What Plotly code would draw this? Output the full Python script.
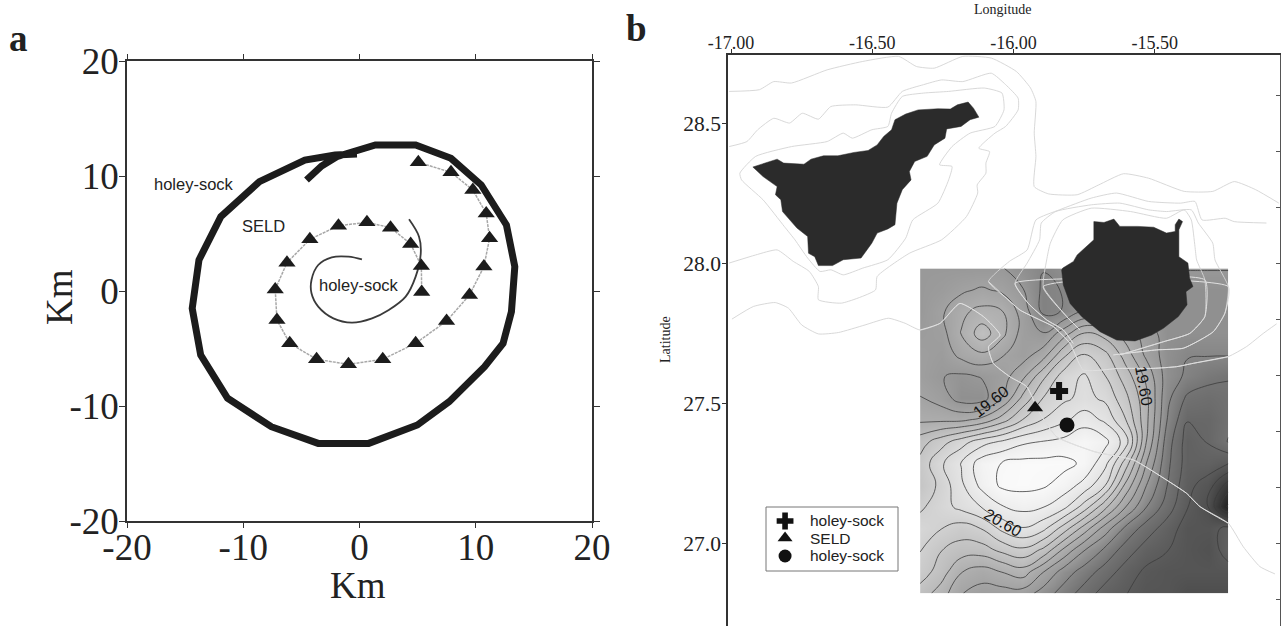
import plotly.graph_objects as go

SERIF = "Liberation Serif"
SANS = "Liberation Sans"
INK = "#222222"

# ---------- panel a ----------
km_ticks = [-20, -10, 0, 10, 20]
km_labels = ["-20", "-10", "0", "10", "20"]
outer_x = [-4.56, -3.26, -1.96, 1.37, 4.83, 7.87, 10.47, 12.64, 13.36, 13.07, 12.35, 10.76, 7.72, 4.98, 0.79, -3.55, -7.59, -11.35, -13.66, -14.39, -13.81, -11.93, -8.61, -4.70, -2.10, -0.22]
outer_y = [9.65, 10.87, 11.68, 12.70, 12.70, 11.54, 9.22, 5.74, 2.12, -1.80, -4.55, -6.58, -9.62, -11.65, -13.25, -13.25, -11.80, -9.33, -5.57, -1.51, 2.70, 6.46, 9.51, 11.39, 11.83, 11.91]
inner_x = [0.21, -0.95, -2.39, -3.55, -4.13, -4.13, -3.55, -2.25, -0.66, 1.08, 2.52, 3.97, 4.83, 5.27, 5.12, 4.26]
inner_y = [2.75, 2.99, 2.93, 2.26, 0.96, -0.20, -1.36, -2.38, -2.75, -2.38, -1.65, -0.49, 1.25, 3.28, 4.72, 6.23]
seld_x = [5.06, 7.87, 9.75, 10.90, 11.19, 10.70, 9.46, 7.49, 4.83, 2.00, -0.95, -3.69, -6.00, -7.10, -7.25, -6.24, -4.27, -1.81, 0.64, 2.67, 4.40, 5.32, 5.35]
seld_y = [11.19, 10.32, 8.78, 6.75, 4.58, 2.12, -0.35, -2.61, -4.55, -5.94, -6.38, -5.94, -4.55, -2.52, 0.14, 2.46, 4.49, 5.68, 5.97, 5.51, 4.09, 2.17, -0.09]
a_label_text = ["holey-sock", "SELD", "holey-sock"]
a_label_x = [-14.24, -8.26, -0.08]
a_label_y = [9.28, 5.65, 0.52]

# ---------- panel b ----------
lon_ticks = [-17.0, -16.5, -16.0, -15.5]
lon_labels = ["-17.00", "-16.50", "-16.00", "-15.50"]
lat_ticks = [27.0, 27.5, 28.0, 28.5]
lat_labels = ["27.0", "27.5", "28.0", "28.5"]
lat_minor = [26.8, 27.0, 27.2, 27.4, 27.6, 27.8, 28.0, 28.2, 28.4, 28.6]

grid_lon = [-16.331, -16.258, -16.185, -16.113, -16.040, -15.967, -15.895, -15.822, -15.749, -15.676, -15.604, -15.531, -15.458, -15.385, -15.313, -15.240]
grid_lat = [27.984, 27.907, 27.829, 27.752, 27.675, 27.597, 27.520, 27.443, 27.365, 27.288, 27.210, 27.133, 27.056, 26.979, 26.901, 26.824]
grid_z = [
    [19.2, 19.2, 19.2, 19.2, 19.2, 19.1, 19.0, 19.1, 19.2, 19.2, 19.2, 19.2, 19.2, 19.2, 19.2, 19.2],
    [19.2, 19.25, 19.35, 19.42, 19.35, 19.2, 18.95, 19.0, 19.1, 19.1, 19.1, 19.1, 19.1, 19.1, 19.1, 19.1],
    [19.2, 19.35, 19.55, 19.65, 19.6, 19.3, 18.95, 19.0, 19.2, 19.2, 19.1, 19.1, 19.1, 19.1, 19.1, 19.1],
    [19.25, 19.3, 19.6, 19.9, 19.65, 19.3, 19.2, 19.5, 19.8, 19.7, 19.5, 19.3, 19.1, 19.1, 19.1, 19.1],
    [19.3, 19.25, 19.45, 19.55, 19.4, 19.3, 19.5, 19.95, 20.2, 20.05, 19.7, 19.35, 19.1, 19.0, 19.0, 19.0],
    [19.3, 19.2, 19.15, 19.2, 19.3, 19.55, 19.95, 20.3, 20.42, 20.2, 19.9, 19.55, 19.1, 18.95, 18.85, 18.8],
    [19.4, 19.3, 19.1, 19.1, 19.4, 19.85, 20.2, 20.35, 20.45, 20.35, 20.05, 19.65, 19.05, 18.75, 18.7, 18.75],
    [19.55, 19.55, 19.55, 19.65, 19.9, 20.2, 20.4, 20.55, 20.7, 20.55, 20.2, 19.65, 19.0, 18.6, 18.6, 18.75],
    [19.9, 20.1, 20.3, 20.5, 20.62, 20.75, 20.8, 20.85, 20.95, 20.85, 20.5, 19.6, 18.9, 18.5, 18.6, 18.8],
    [20.05, 20.35, 20.6, 20.9, 21.0, 21.05, 21.05, 21.05, 20.95, 20.65, 20.1, 19.4, 18.85, 18.5, 18.5, 18.4],
    [20.0, 20.25, 20.55, 20.85, 21.03, 21.05, 21.02, 20.9, 20.72, 20.4, 19.75, 19.2, 18.8, 18.45, 18.3, 17.9],
    [20.15, 20.3, 20.45, 20.6, 20.78, 20.85, 20.8, 20.65, 20.3, 19.85, 19.4, 19.0, 18.7, 18.4, 18.2, 17.55],
    [20.3, 20.2, 20.1, 20.2, 20.45, 20.58, 20.45, 20.1, 19.7, 19.3, 18.95, 18.7, 18.5, 18.3, 18.3, 18.45],
    [20.2, 20.0, 19.9, 19.9, 20.05, 20.15, 19.95, 19.55, 19.2, 18.95, 18.7, 18.5, 18.4, 18.3, 18.25, 18.5],
    [20.1, 19.9, 19.6, 19.5, 19.6, 19.7, 19.4, 19.1, 18.9, 18.7, 18.5, 18.35, 18.3, 18.3, 18.3, 18.3],
    [19.9, 19.7, 19.4, 19.3, 19.3, 19.3, 19.1, 18.9, 18.7, 18.5, 18.4, 18.3, 18.3, 18.2, 18.2, 18.2],
]

tenerife_lon = [-16.923, -16.837, -16.814, -16.742, -16.717, -16.673, -16.622, -16.565, -16.515, -16.483, -16.460, -16.432, -16.420, -16.382, -16.338, -16.268, -16.224, -16.199, -16.161, -16.142, -16.123, -16.154, -16.186, -16.237, -16.243, -16.281, -16.306, -16.350, -16.369, -16.363, -16.394, -16.413, -16.420, -16.445, -16.483, -16.502, -16.540, -16.603, -16.641, -16.691, -16.704, -16.726, -16.729, -16.767, -16.818, -16.824, -16.843, -16.837, -16.887, -16.923]
tenerife_lat = [28.346, 28.374, 28.360, 28.356, 28.374, 28.386, 28.386, 28.398, 28.405, 28.425, 28.455, 28.479, 28.515, 28.535, 28.550, 28.554, 28.553, 28.568, 28.578, 28.556, 28.524, 28.515, 28.491, 28.482, 28.449, 28.425, 28.384, 28.366, 28.330, 28.300, 28.265, 28.217, 28.140, 28.125, 28.110, 28.074, 28.021, 28.015, 27.994, 27.994, 28.026, 28.038, 28.098, 28.128, 28.187, 28.229, 28.247, 28.276, 28.312, 28.346]
canaria_lon = [-15.716, -15.680, -15.645, -15.624, -15.560, -15.504, -15.459, -15.428, -15.428, -15.415, -15.402, -15.415, -15.415, -15.383, -15.377, -15.365, -15.390, -15.386, -15.417, -15.470, -15.511, -15.570, -15.635, -15.694, -15.759, -15.800, -15.824, -15.830, -15.826, -15.788, -15.775, -15.744, -15.716, -15.716]
canaria_lat = [28.151, 28.148, 28.160, 28.134, 28.134, 28.131, 28.110, 28.116, 28.140, 28.160, 28.151, 28.122, 28.026, 28.003, 27.949, 27.919, 27.901, 27.854, 27.812, 27.770, 27.746, 27.725, 27.728, 27.758, 27.812, 27.859, 27.925, 27.978, 27.985, 28.009, 28.032, 28.062, 28.086, 28.151]

iso_a_lon = [-17.007, -16.900, -16.849, -16.786, -16.660, -16.534, -16.407, -16.344, -16.281, -16.180, -16.079, -15.990, -15.940, -15.921, -15.927, -15.921, -15.927, -15.876, -15.775, -15.699, -15.611, -15.522, -15.396, -15.295, -15.219, -15.143, -15.061]
iso_a_lat = [28.616, 28.622, 28.651, 28.646, 28.693, 28.723, 28.741, 28.705, 28.699, 28.741, 28.735, 28.687, 28.628, 28.580, 28.467, 28.384, 28.276, 28.250, 28.247, 28.282, 28.322, 28.306, 28.259, 28.259, 28.294, 28.265, 28.217]
iso_b_lon = [-17.007, -16.944, -16.906, -16.849, -16.793, -16.748, -16.691, -16.647, -16.559, -16.445, -16.394, -16.319, -16.255, -16.180, -16.079, -16.028, -15.984, -15.984, -16.028, -16.066, -16.123, -16.085, -16.098, -16.098, -16.129, -16.127, -16.167, -16.255, -16.369, -16.483, -16.489, -16.609, -16.691, -16.691, -16.723, -16.780, -16.837, -16.913, -17.007]
iso_b_lat = [28.419, 28.437, 28.479, 28.520, 28.503, 28.538, 28.517, 28.562, 28.568, 28.560, 28.616, 28.640, 28.657, 28.651, 28.681, 28.640, 28.592, 28.550, 28.491, 28.467, 28.413, 28.401, 28.360, 28.324, 28.282, 28.253, 28.169, 28.086, 28.038, 27.955, 27.907, 27.860, 27.872, 27.919, 27.973, 28.009, 28.050, 28.032, 28.003]
iso_c_lon = [-16.969, -16.913, -16.786, -16.660, -16.603, -16.571, -16.502, -16.445, -16.432, -16.394, -16.319, -16.230, -16.104, -16.041, -16.034, -16.066, -16.154, -16.218, -16.262, -16.218, -16.230, -16.268, -16.357, -16.382, -16.445, -16.534, -16.603, -16.647, -16.685, -16.729, -16.774, -16.812, -16.887, -16.963, -16.969]
iso_c_lat = [28.324, 28.384, 28.419, 28.437, 28.467, 28.449, 28.479, 28.491, 28.538, 28.598, 28.610, 28.616, 28.628, 28.610, 28.550, 28.491, 28.467, 28.419, 28.354, 28.348, 28.300, 28.217, 28.157, 28.092, 28.015, 27.985, 27.961, 27.979, 27.973, 28.021, 28.086, 28.134, 28.229, 28.300, 28.324]
iso_d_lon = [-16.997, -16.921, -16.844, -16.797, -16.750, -16.691, -16.620, -16.526, -16.443, -16.384, -16.331, -16.260, -16.190, -16.107, -16.048, -16.089, -16.072, -16.013, -15.954, -15.907, -15.848, -15.712, -15.576, -15.458, -15.388, -15.340, -15.240, -15.187, -15.128, -15.075]
iso_d_lat = [27.803, 27.848, 27.862, 27.842, 27.782, 27.750, 27.755, 27.782, 27.806, 27.788, 27.764, 27.788, 27.859, 27.812, 27.746, 27.704, 27.645, 27.597, 27.562, 27.466, 27.383, 27.329, 27.300, 27.228, 27.181, 27.133, 27.074, 26.990, 26.919, 26.893]
iso_e_lon = [-15.069, -15.116, -15.175, -15.240, -15.364, -15.423, -15.506, -15.624, -15.753, -15.789, -15.800, -15.859, -15.907, -15.977, -16.025, -16.089, -16.015, -15.952, -15.921, -15.838, -15.725, -15.636, -15.522, -15.409, -15.358, -15.333, -15.251, -15.219, -15.105]
iso_e_lat = [27.786, 27.752, 27.705, 27.669, 27.645, 27.633, 27.627, 27.627, 27.621, 27.693, 27.716, 27.776, 27.800, 27.835, 27.877, 27.937, 28.009, 28.050, 28.157, 28.193, 28.235, 28.253, 28.223, 28.217, 28.223, 28.157, 28.163, 28.151, 28.146]
iso_f_lon = [-15.647, -15.494, -15.399, -15.293, -15.252, -15.240, -15.287, -15.295, -15.346, -15.371, -15.459, -15.522, -15.624, -15.725, -15.851, -15.902, -15.908, -15.952, -15.995, -15.948, -15.883, -15.824, -15.789]
iso_f_lat = [27.675, 27.693, 27.699, 27.758, 27.824, 27.919, 28.014, 28.074, 28.146, 28.193, 28.187, 28.193, 28.217, 28.211, 28.187, 28.146, 28.086, 28.003, 27.931, 27.859, 27.800, 27.764, 27.716]
iso_g_lon = [-15.624, -15.470, -15.376, -15.323, -15.323, -15.352, -15.358, -15.371, -15.396, -15.459, -15.586, -15.725, -15.826, -15.870, -15.883, -15.895, -15.812, -15.765]
iso_g_lat = [27.675, 27.722, 27.752, 27.812, 27.943, 28.014, 28.062, 28.157, 28.193, 28.163, 28.187, 28.199, 28.157, 28.074, 28.014, 27.919, 27.812, 27.764]
iso_lines = [(iso_a_lon, iso_a_lat), (iso_b_lon, iso_b_lat), (iso_c_lon, iso_c_lat), (iso_d_lon, iso_d_lat),
             (iso_e_lon, iso_e_lat), (iso_f_lon, iso_f_lat), (iso_g_lon, iso_g_lat)]

site_names = ["holey-sock", "SELD", "holey-sock"]
site_lon = [-15.839, -15.924, -15.811]
site_lat = [27.546, 27.486, 27.425]
site_symbols = ["cross", "triangle-up", "circle"]
site_sizes = [15, 14, 15]

key_lon = -16.809
key_lat = [27.082, 27.021, 26.957]
key_text_lon = -16.727
key_sizes = [14, 13, 13]

contour_text = ["19.60", "19.60", "20.60"]
contour_text_lon = [-16.080, -15.537, -16.039]
contour_text_lat = [27.508, 27.564, 27.077]
contour_text_angle = [-38, 80, 30]

W, H = 1281, 626
fig = go.Figure()

# panel a
fig.add_trace(go.Scatter(x=outer_x, y=outer_y, mode="lines", line=dict(color="#1c1c1c", width=7),
                         showlegend=False, hoverinfo="skip"))
fig.add_trace(go.Scatter(x=inner_x, y=inner_y, mode="lines", line=dict(color="#3a3a3a", width=1.8, shape="spline"),
                         showlegend=False, hoverinfo="skip"))
fig.add_trace(go.Scatter(x=seld_x, y=seld_y, mode="lines+markers", line=dict(color="#a8a8a8", width=1.5, dash="3px,1px"),
                         marker=dict(symbol="triangle-up", size=15, color="#1c1c1c"),
                         showlegend=False, hoverinfo="skip"))

# panel b
fig.add_trace(go.Contour(
    x=grid_lon, y=grid_lat, z=grid_z, xaxis="x2", yaxis="y2", showscale=False, hoverinfo="skip",
    zmin=17.6, zmax=21.2,
    colorscale=[[0, "#252525"], [0.194, "#555555"], [0.333, "#747474"], [0.444, "#999999"], [0.778, "#dcdcdc"], [0.944, "#f8f8f8"], [1, "#ffffff"]],
    contours=dict(start=17.59, end=21.19, size=0.2, coloring="heatmap", showlabels=False),
    line=dict(color="#3c3c3c", width=0.8, smoothing=1.3),
))
for lon, lat in iso_lines:
    fig.add_trace(go.Scatter(x=lon, y=lat, xaxis="x2", yaxis="y2", mode="lines",
                             line=dict(color="#d4d4d4", width=0.9, shape="spline", smoothing=0.5),
                             showlegend=False, hoverinfo="skip"))
    inside = [(a, b) for a, b in zip(lon, lat)
              if min(grid_lon) <= a <= max(grid_lon) and min(grid_lat) <= b <= max(grid_lat)]
    if inside:
        fig.add_trace(go.Scatter(x=[p[0] for p in inside], y=[p[1] for p in inside], xaxis="x2", yaxis="y2",
                                 mode="lines", line=dict(color="#e0e0e0", width=1, shape="spline", smoothing=0.5),
                                 showlegend=False, hoverinfo="skip"))
for lon, lat in [(tenerife_lon, tenerife_lat), (canaria_lon, canaria_lat)]:
    fig.add_trace(go.Scatter(x=lon, y=lat, xaxis="x2", yaxis="y2", mode="lines", fill="toself",
                             fillcolor="#2b2b2b", line=dict(color="#2b2b2b", width=0.5),
                             showlegend=False, hoverinfo="skip"))
for n, lo, la, sy, sz in zip(site_names, site_lon, site_lat, site_symbols, site_sizes):
    fig.add_trace(go.Scatter(x=[lo], y=[la], xaxis="x2", yaxis="y2", mode="markers", name=n, showlegend=False,
                             marker=dict(symbol=sy, size=sz, color="#111111"), hoverinfo="skip"))
# key markers
for la, sy, sz in zip(key_lat, site_symbols, key_sizes):
    fig.add_trace(go.Scatter(x=[key_lon], y=[la], xaxis="x2", yaxis="y2", mode="markers", showlegend=False,
                             marker=dict(symbol=sy, size=sz, color="#111111"), hoverinfo="skip"))
# carries the inward ticks of the right-hand frame
fig.add_trace(go.Scatter(x=[None], y=[None], xaxis="x2", yaxis="y3", mode="markers",
                         showlegend=False, hoverinfo="skip"))

annotations = []
for t, x, y in zip(a_label_text, a_label_x, a_label_y):
    annotations.append(dict(x=x, y=y, xref="x", yref="y", text=t, showarrow=False,
                            font=dict(family=SANS, size=16.5, color=INK)))
for t, x, y, ang in zip(contour_text, contour_text_lon, contour_text_lat, contour_text_angle):
    annotations.append(dict(x=x, y=y, xref="x2", yref="y2", text=t, textangle=ang, showarrow=False,
                            font=dict(family=SANS, size=16, color="#111111")))
for t, la in zip(site_names, key_lat):
    annotations.append(dict(x=key_text_lon, y=la, xref="x2", yref="y2", text=t, xanchor="left", yanchor="middle",
                            showarrow=False, font=dict(family=SANS, size=15.5, color=INK)))
annotations += [
    dict(x=18 / W, y=1 - 38 / H, xref="paper", yref="paper", text="<b>a</b>", showarrow=False,
         xanchor="center", yanchor="middle", font=dict(family=SERIF, size=37, color=INK)),
    dict(x=636 / W, y=1 - 29 / H, xref="paper", yref="paper", text="<b>b</b>", showarrow=False,
         xanchor="center", yanchor="middle", font=dict(family=SERIF, size=37, color=INK)),
    dict(x=1003 / W, y=1 - 10 / H, xref="paper", yref="paper", text="Longitude", showarrow=False,
         xanchor="center", yanchor="middle", font=dict(family=SERIF, size=14, color=INK)),
    dict(x=666 / W, y=1 - 340 / H, xref="paper", yref="paper", text="Latitude", textangle=-90, showarrow=False,
         xanchor="center", yanchor="middle", font=dict(family=SERIF, size=14, color=INK)),
    dict(x=358 / W, y=1 - 585 / H, xref="paper", yref="paper", text="Km", showarrow=False,
         xanchor="center", yanchor="middle", font=dict(family=SERIF, size=37, color=INK)),
    dict(x=59 / W, y=1 - 297 / H, xref="paper", yref="paper", text="Km", textangle=-90, showarrow=False,
         xanchor="center", yanchor="middle", font=dict(family=SERIF, size=37, color=INK)),
]

fig.update_layout(
    width=W, height=H, margin=dict(l=0, r=0, t=0, b=0, autoexpand=False), autosize=False,
    paper_bgcolor="white", plot_bgcolor="rgba(0,0,0,0)", showlegend=False,
    annotations=annotations,
    shapes=[dict(type="rect", xref="paper", yref="paper", x0=766 / W, x1=898 / W, y0=1 - 571 / H, y1=1 - 507 / H,
                 line=dict(color="#777777", width=1), fillcolor="rgba(0,0,0,0)")],
    xaxis=dict(domain=[127 / W, 592 / W], range=[-20, 20], tickvals=km_ticks, ticktext=km_labels,
               showgrid=False, zeroline=False, showline=True, linecolor="#333333", linewidth=1.5,
               mirror="ticks", ticks="outside", ticklen=5, tickcolor="#333333", ticklabelstandoff=-12,
               tickfont=dict(family=SERIF, size=37, color=INK)),
    yaxis=dict(domain=[1 - 521 / H, 1 - 61 / H], range=[-20, 20], tickvals=km_ticks, ticktext=km_labels,
               showgrid=False, zeroline=False, showline=True, linecolor="#333333", linewidth=1.5,
               mirror="ticks", ticks="outside", ticklen=6, tickcolor="#333333", ticklabelstandoff=-7,
               tickfont=dict(family=SERIF, size=37, color=INK)),
    xaxis2=dict(domain=[728 / W, 1280 / W], range=[-17.011, -15.057], side="top", anchor="y2",
                tickvals=lon_ticks, ticktext=lon_labels, showgrid=False, zeroline=False,
                showline=True, linecolor="#333333", linewidth=1.5, ticks="outside", ticklen=4,
                ticklabelstandoff=-7,
                tickcolor="#333333", tickfont=dict(family=SERIF, size=18, color=INK)),
    yaxis2=dict(domain=[0, 1 - 55 / H], range=[26.707, 28.746], anchor="x2",
                tickvals=lat_ticks, ticktext=lat_labels, showgrid=False, zeroline=False,
                showline=True, linecolor="#333333", linewidth=1.5, ticks="outside", ticklen=4,
                ticklabelstandoff=-3,
                tickcolor="#333333", tickfont=dict(family=SERIF, size=21.5, color=INK)),
    yaxis3=dict(domain=[0, 1 - 55 / H], range=[26.707, 28.746], anchor="x2", overlaying="y2", side="right",
                tickvals=lat_minor, showticklabels=False, showgrid=False, zeroline=False,
                showline=True, linecolor="#555555", linewidth=1.5, ticks="inside", ticklen=4,
                tickcolor="#555555"),
)

fig.write_html("out.html", config=dict(displayModeBar=False),
               post_script="document.body.style.margin='0';document.body.style.overflow='hidden';")
